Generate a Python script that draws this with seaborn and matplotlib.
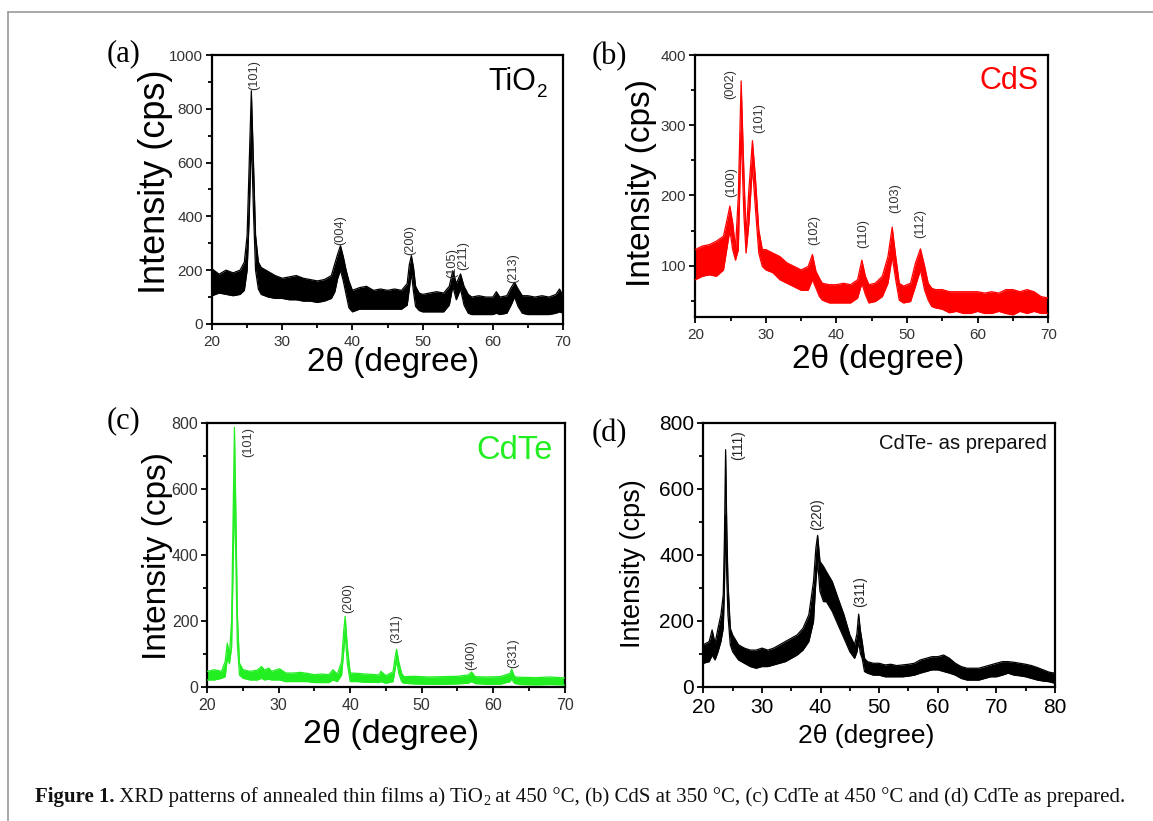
import numpy as np
import pandas as pd
import matplotlib
matplotlib.use("Agg")
import matplotlib.pyplot as plt
from matplotlib.ticker import MultipleLocator
from matplotlib.lines import Line2D
import seaborn as sns

# ---------------------------------------------------------------------------
# XRD patterns: for each film, the noisy trace is stored as its upper and
# lower envelope (cps) at a set of 2-theta positions.
# ---------------------------------------------------------------------------

# (a) TiO2 annealed at 450 C
tio2_theta = [20.0, 21.0, 22.0, 23.0, 24.0, 24.6, 25.0, 25.3, 25.6, 25.9, 26.2, 26.6,
              27.0, 28.0, 29.0, 30.0, 31.0, 32.0, 33.0, 34.0, 35.0, 36.0, 37.0, 37.5,
              37.9, 38.3, 38.7, 39.1, 39.5, 40.0, 41.0, 42.0, 43.0, 44.0, 45.0, 46.0,
              47.0, 47.8, 48.1, 48.4, 48.7, 49.0, 49.5, 50.0, 51.0, 52.0, 53.0, 53.8,
              54.3, 54.8, 55.4, 55.9, 56.5, 57.0, 58.0, 59.0, 60.0, 60.5, 61.0, 62.0,
              62.6, 63.1, 63.6, 64.2, 65.0, 66.0, 67.0, 68.0, 69.0, 69.5, 70.0]
tio2_upper = [205, 185, 200, 190, 200, 230, 330, 600, 867, 600, 330, 230,
              210, 195, 180, 170, 175, 180, 170, 165, 160, 165, 180, 225,
              260, 291, 250, 200, 160, 125, 135, 140, 125, 130, 125, 130,
              125, 150, 220, 254, 210, 140, 115, 110, 115, 120, 115, 140,
              198, 150, 186, 140, 110, 100, 105, 100, 100, 120, 100, 105,
              135, 155, 130, 105, 105, 100, 105, 100, 110, 130, 105]
tio2_lower = [105, 115, 110, 105, 110, 125, 200, 400, 700, 420, 200, 130,
              110, 100, 95, 95, 90, 90, 85, 85, 80, 85, 95, 120,
              170, 200, 160, 110, 60, 45, 55, 55, 55, 55, 55, 55,
              55, 70, 130, 190, 120, 65, 50, 45, 45, 45, 45, 70,
              140, 90, 130, 70, 40, 35, 35, 35, 35, 40, 35, 40,
              70, 100, 65, 40, 35, 35, 35, 35, 40, 45, 40]
tio2_hkl = ["(101)", "(004)", "(200)", "(105)", "(211)", "(213)"]
tio2_hkl_theta = [26.0, 38.3, 48.3, 54.2, 55.8, 62.9]
tio2_hkl_cps = [870, 294, 257, 171, 201, 152]

# (b) CdS annealed at 350 C
cds_theta = [20.0, 21.0, 22.0, 23.0, 24.0, 24.6, 24.9, 25.3, 25.7, 26.1, 26.5, 26.9,
             27.2, 27.6, 28.1, 28.5, 29.0, 29.5, 30.0, 31.0, 32.0, 33.0, 34.0, 35.0,
             36.0, 36.6, 37.1, 37.6, 38.0, 39.0, 40.0, 41.0, 42.0, 43.0, 43.6, 44.1,
             44.6, 45.5, 46.5, 47.3, 47.9, 48.4, 48.9, 49.5, 50.5, 51.2, 51.9, 52.5,
             53.0, 53.5, 54.0, 55.0, 56.0, 57.0, 58.0, 59.0, 60.0, 61.0, 62.0, 63.0,
             64.0, 65.0, 66.0, 67.0, 68.0, 69.0, 70.0]
cds_upper = [123, 128, 130, 135, 142, 170, 185, 161, 125, 199, 363, 228,
             142, 209, 278, 228, 151, 123, 123, 118, 113, 104, 99, 94,
             99, 116, 92, 82, 75, 73, 73, 75, 73, 80, 108, 85,
             73, 75, 85, 113, 155, 113, 75, 71, 75, 104, 124, 99,
             75, 68, 66, 66, 63, 63, 63, 63, 63, 61, 63, 61,
             66, 66, 63, 66, 63, 56, 54]
cds_lower = [80, 85, 87, 85, 94, 132, 151, 123, 108, 123, 290, 170,
             118, 161, 242, 185, 118, 99, 94, 90, 80, 75, 70, 65,
             65, 80, 68, 56, 51, 47, 47, 47, 47, 54, 75, 59,
             47, 49, 56, 75, 113, 80, 51, 47, 49, 71, 94, 65,
             51, 42, 40, 38, 33, 35, 32, 32, 35, 32, 32, 35,
             32, 30, 35, 32, 35, 32, 32]
cds_hkl = ["(100)", "(002)", "(101)", "(102)", "(110)", "(103)", "(112)"]
cds_hkl_theta = [25.1, 25.0, 29.0, 36.8, 43.8, 48.3, 51.9]
cds_hkl_cps = [198, 338, 289, 130, 125, 175, 139]

# (c) CdTe annealed at 450 C
cdte_theta = [20.0, 21.0, 22.0, 22.5, 22.8, 23.1, 23.4, 23.6, 23.8, 24.0, 24.2, 24.5,
              25.0, 26.0, 27.0, 27.6, 28.0, 28.6, 29.0, 30.1, 31.0, 32.0, 33.0, 34.0,
              35.0, 36.0, 37.0, 37.6, 38.2, 38.8, 39.1, 39.3, 39.6, 40.0, 41.0, 42.0,
              43.0, 44.0, 44.3, 45.0, 46.0, 46.3, 46.5, 46.8, 47.2, 47.5, 49.0, 51.0,
              53.0, 55.0, 56.5, 57.0, 57.5, 59.0, 61.0, 62.4, 62.6, 62.9, 63.1, 64.0,
              66.0, 68.0, 70.0]
cdte_upper = [46, 51, 46, 76, 132, 96, 200, 500, 787, 520, 220, 71,
              51, 46, 50, 61, 50, 56, 46, 54, 41, 41, 43, 40,
              36, 38, 36, 51, 37, 76, 170, 213, 120, 41, 40, 38,
              37, 35, 46, 33, 45, 90, 113, 75, 40, 30, 31, 29,
              30, 31, 35, 44, 30, 29, 30, 40, 53, 35, 29, 28,
              27, 29, 26]
cdte_lower = [20, 20, 25, 30, 86, 70, 120, 350, 600, 380, 130, 35,
              25, 20, 20, 25, 20, 22, 20, 20, 15, 15, 15, 15,
              12, 12, 12, 20, 15, 35, 110, 160, 70, 15, 15, 13,
              13, 12, 15, 10, 15, 55, 80, 40, 15, 10, 8, 7,
              7, 8, 10, 15, 9, 7, 7, 15, 25, 12, 9, 6,
              5, 6, 5]
cdte_hkl = ["(101)", "(200)", "(311)", "(400)", "(331)"]
cdte_hkl_theta = [25.7, 39.75, 46.5, 57.0, 62.8]
cdte_hkl_cps = [698, 222, 131, 50, 55]

# (d) CdTe as prepared
asp_theta = [20.0, 21.0, 21.5, 22.0, 22.5, 23.0, 23.4, 23.6, 23.8, 24.0, 24.2, 24.6,
             25.0, 26.0, 27.0, 28.0, 29.0, 30.0, 31.0, 32.0, 33.0, 34.0, 35.0, 36.0,
             37.0, 38.0, 38.8, 39.2, 39.5, 39.9, 40.5, 41.0, 42.0, 43.0, 44.0, 45.0,
             45.8, 46.2, 46.5, 46.8, 47.1, 47.5, 48.0, 49.0, 50.0, 51.0, 52.0, 53.0,
             54.0, 55.0, 56.0, 57.0, 58.0, 59.0, 60.0, 61.0, 62.0, 63.0, 64.0, 65.0,
             66.0, 67.0, 68.0, 69.0, 70.0, 71.0, 72.0, 73.0, 74.0, 75.0, 76.0, 77.0,
             78.0, 79.0, 80.0]
asp_upper = [127, 137, 172, 132, 177, 218, 279, 450, 719, 480, 319, 177,
             157, 127, 117, 111, 111, 117, 111, 117, 127, 137, 147, 157,
             177, 218, 319, 420, 459, 380, 365, 349, 319, 268, 218, 157,
             127, 160, 220, 170, 137, 86, 76, 71, 71, 66, 68, 64,
             66, 68, 71, 81, 86, 91, 91, 96, 86, 71, 61, 56,
             56, 56, 61, 66, 71, 76, 76, 74, 71, 68, 64, 58,
             51, 44, 41]
asp_lower = [71, 76, 96, 81, 106, 137, 177, 300, 521, 330, 218, 127,
             106, 81, 71, 61, 56, 61, 61, 66, 71, 76, 86, 96,
             111, 137, 198, 319, 380, 289, 258, 258, 228, 187, 147, 106,
             86, 105, 137, 100, 86, 46, 41, 35, 35, 30, 30, 30,
             30, 32, 35, 41, 46, 51, 51, 46, 41, 35, 25, 20,
             20, 20, 25, 30, 30, 35, 41, 35, 33, 30, 25, 20,
             17, 15, 10]
asp_hkl = ["(111)", "(220)", "(311)"]
asp_hkl_theta = [25.9, 39.5, 46.7]
asp_hkl_cps = [688, 476, 243]

# ---------------------------------------------------------------------------
sns.set_style("ticks")
plt.rcParams["font.family"] = ["Liberation Sans", "DejaVu Sans"]

W, H = 1153, 821
fig = plt.figure(figsize=(W / 100, H / 100), dpi=100)
fig.patch.set_facecolor("white")
renderer = fig.canvas.get_renderer()

panels = [
    dict(rect=[0.1839, 0.6054, 0.3044, 0.3276], theta=tio2_theta, up=tio2_upper, lo=tio2_lower,
         color="black", xlim=(20, 70), ylim=(0, 1000), ymaj=200, ymin=100,
         hkl=tio2_hkl, hkl_t=tio2_hkl_theta, hkl_c=tio2_hkl_cps, hkl_fs=9.2, hkl_col="#333333",
         tick_fs=11, tick_col="#333333", ylab_fs=26, xlab_fs=24,
         ylab_xy=(-0.112, 0.529), xlab_xy=(0.516, -0.085),
         name=("TiO", "2"), name_fs=22, name_col="black", name_xy=(0.957, 0.894),
         letter="(a)", letter_xy=(124, 54)),
    dict(rect=[0.6030, 0.6139, 0.3061, 0.3191], theta=cds_theta, up=cds_upper, lo=cds_lower,
         color="#ff0000", xlim=(20, 70), ylim=(27, 400), ymaj=100, ymin=50,
         hkl=cds_hkl, hkl_t=cds_hkl_theta, hkl_c=cds_hkl_cps, hkl_fs=9.2, hkl_col="#333333",
         tick_fs=11, tick_col="#333333", ylab_fs=24, xlab_fs=24,
         ylab_xy=(-0.107, 0.511), xlab_xy=(0.518, -0.103),
         name=("CdS", None), name_fs=22, name_col="#ff0000", name_xy=(0.972, 0.90),
         letter="(b)", letter_xy=(609, 57)),
    dict(rect=[0.1798, 0.1638, 0.3098, 0.3210], theta=cdte_theta, up=cdte_upper, lo=cdte_lower,
         color="#22ee22", xlim=(20, 70), ylim=(0, 800), ymaj=200, ymin=100,
         hkl=cdte_hkl, hkl_t=cdte_hkl_theta, hkl_c=cdte_hkl_cps, hkl_fs=9.2, hkl_col="#333333",
         tick_fs=11.5, tick_col="#333333", ylab_fs=24, xlab_fs=24.5,
         ylab_xy=(-0.097, 0.495), xlab_xy=(0.515, -0.122),
         name=("CdTe", None), name_fs=23.5, name_col="#22ee22", name_xy=(0.966, 0.894),
         letter="(c)", letter_xy=(124, 421)),
    dict(rect=[0.6100, 0.1636, 0.3050, 0.3212], theta=asp_theta, up=asp_upper, lo=asp_lower,
         color="black", xlim=(20, 80), ylim=(0, 800), ymaj=200, ymin=100,
         hkl=asp_hkl, hkl_t=asp_hkl_theta, hkl_c=asp_hkl_cps, hkl_fs=9.8, hkl_col="#222222",
         tick_fs=15, tick_col="black", ylab_fs=19.5, xlab_fs=19,
         ylab_xy=(-0.164, 0.466), xlab_xy=(0.463, -0.14),
         name=("CdTe- as prepared", None), name_fs=14.6, name_col="#111111",
         name_xy=(0.977, 0.923),
         letter="(d)", letter_xy=(609, 434)),
]

for p in panels:
    ax = fig.add_axes(p["rect"])
    n = len(p["theta"])
    df = pd.DataFrame({
        "theta": list(p["theta"]) * 2,
        "cps": list(p["up"]) + list(p["lo"]),
        "edge": ["upper"] * n + ["lower"] * n,
    })
    ax.fill_between(p["theta"], p["lo"], p["up"], color=p["color"], lw=0, zorder=2)
    sns.lineplot(data=df, x="theta", y="cps", units="edge", estimator=None,
                 color=p["color"], lw=0.9, ax=ax, legend=False, zorder=3)

    ax.set_xlim(*p["xlim"])
    ax.set_ylim(*p["ylim"])
    ax.xaxis.set_major_locator(MultipleLocator(10))
    ax.xaxis.set_minor_locator(MultipleLocator(5))
    ax.yaxis.set_major_locator(MultipleLocator(p["ymaj"]))
    ax.yaxis.set_minor_locator(MultipleLocator(p["ymin"]))
    for s in ax.spines.values():
        s.set_linewidth(1.6)
        s.set_color("black")
        s.set_visible(True)
    ax.tick_params(which="both", direction="out", top=False, right=False,
                   width=1.3, colors="black", labelcolor=p["tick_col"],
                   labelsize=p["tick_fs"])
    ax.tick_params(which="major", length=4)
    ax.tick_params(which="minor", length=3)
    ax.tick_params(axis="x", pad=4)
    ax.tick_params(axis="y", pad=2.5)

    ax.set_ylabel("Intensity (cps)", fontsize=p["ylab_fs"], color="black")
    ax.yaxis.set_label_coords(*p["ylab_xy"])
    ax.set_xlabel("2θ (degree)", fontsize=p["xlab_fs"], color="black")
    ax.xaxis.set_label_coords(*p["xlab_xy"])

    for lab, t, c in zip(p["hkl"], p["hkl_t"], p["hkl_c"]):
        ax.text(t, c, lab, rotation=90, ha="center", va="bottom",
                fontsize=p["hkl_fs"], color=p["hkl_col"], zorder=4)

    # sample name, with an optional subscript drawn as its own run
    main, sub = p["name"]
    nx, ny = p["name_xy"]
    if sub is None:
        ax.text(nx, ny, main, transform=ax.transAxes, ha="right", va="center",
                fontsize=p["name_fs"], color=p["name_col"])
    else:
        st = ax.text(nx, ny, sub, transform=ax.transAxes, ha="right", va="top",
                     fontsize=p["name_fs"] * 0.62, color=p["name_col"])
        sb = st.get_window_extent(renderer=renderer)
        ab = ax.get_window_extent(renderer=renderer)
        ax.text(nx - (sb.width + 1) / ab.width, ny + 0.005, main, transform=ax.transAxes,
                ha="right", va="center", fontsize=p["name_fs"], color=p["name_col"])

    lx, ly = p["letter_xy"]
    fig.text(lx / W, 1 - ly / H, p["letter"], ha="center", va="center",
             fontsize=22, family=["Liberation Serif", "DejaVu Serif"], color="black")

# frame rules of the figure box
fig.add_artist(Line2D([8 / W, 1.0], [1 - 12 / H, 1 - 12 / H], color="#9a9a9a", lw=1.2))
fig.add_artist(Line2D([8 / W, 8 / W], [0.0, 1 - 12 / H], color="#9a9a9a", lw=1.2))

# caption, written in runs so that the bold lead-in and the subscript fit together
serif = ["Liberation Serif", "DejaVu Serif"]
cap_fs = 15
runs = [
    ("Figure 1.", dict(fontsize=cap_fs, weight="bold"), 0),
    (" XRD patterns of annealed thin films a) TiO", dict(fontsize=cap_fs), 0),
    ("2", dict(fontsize=cap_fs * 0.68), -3),
    (" at 450 °C, (b) CdS at 350 °C, (c) CdTe at 450 °C and (d) CdTe as prepared.",
     dict(fontsize=cap_fs), 0),
]
x_px = 35.0
base_px = 802.0
for text, kw, dy in runs:
    t = fig.text(x_px / W, 1 - (base_px - dy) / H, text, ha="left", va="baseline",
                 family=serif, color="#111111", **kw)
    bb = t.get_window_extent(renderer=renderer)
    x_px += bb.width

fig.savefig("out.png", dpi=100, facecolor="white")
